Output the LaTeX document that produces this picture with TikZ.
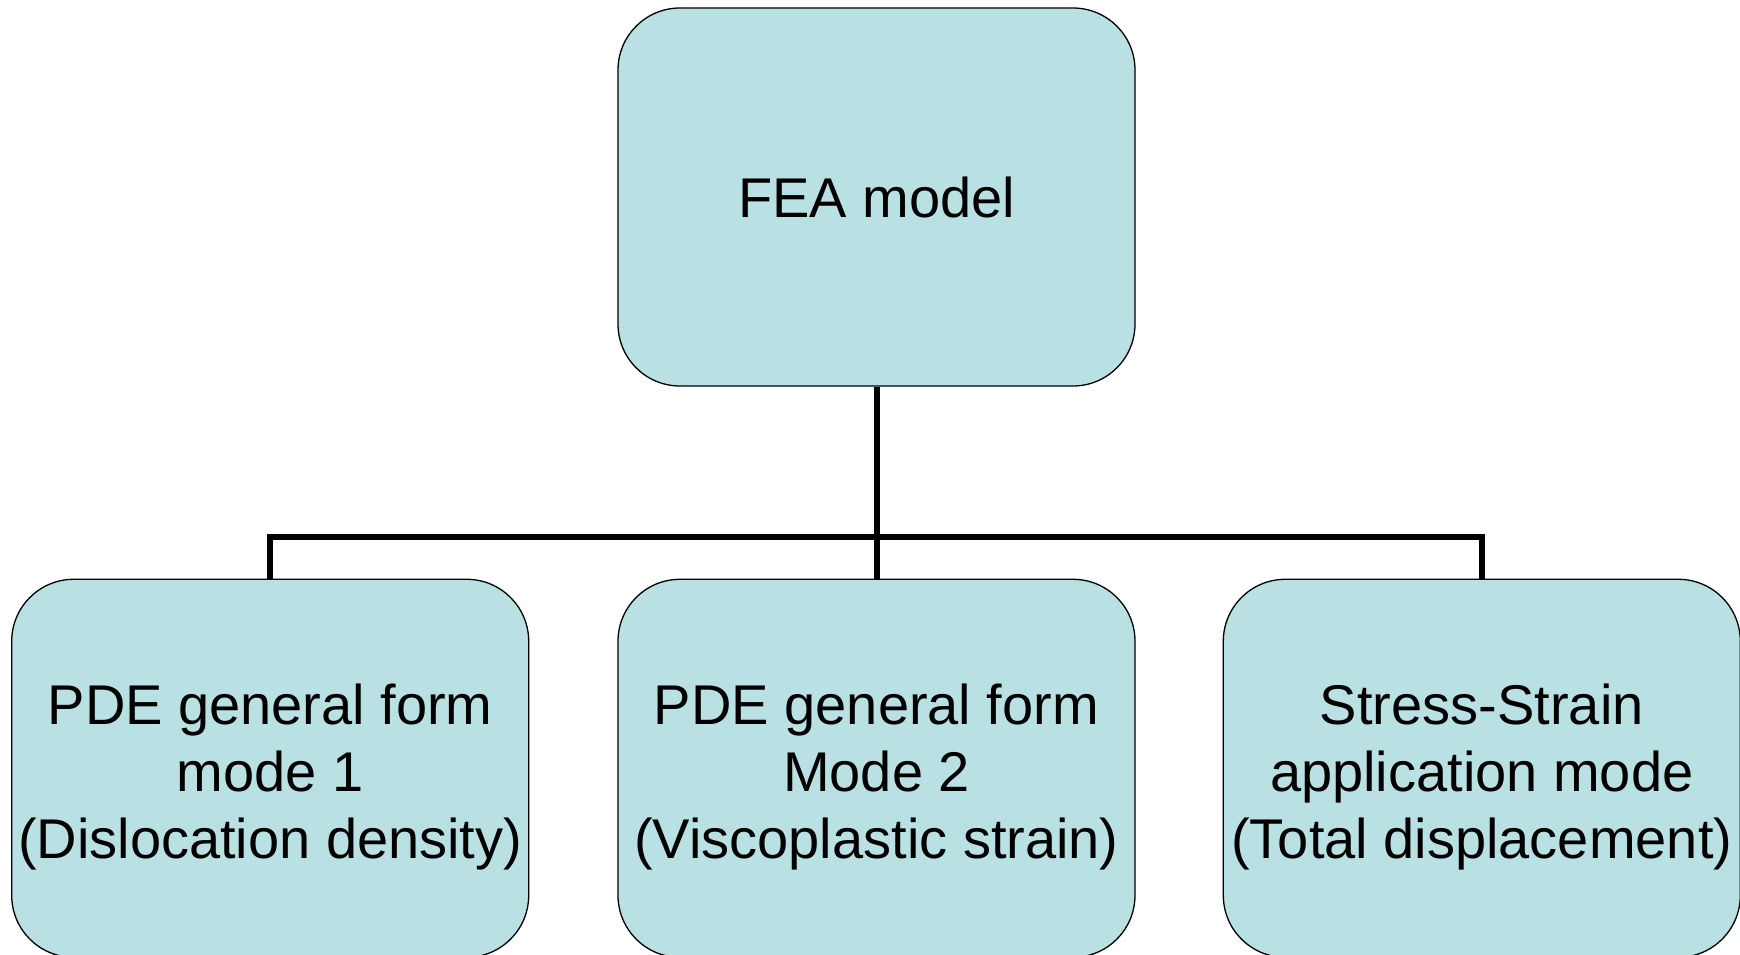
\documentclass[tikz,border=0pt]{standalone}
\usepackage{fontspec}
\setmainfont{Liberation Sans}
\usepackage{tikz}
\usetikzlibrary{positioning}
\definecolor{pale}{HTML}{B9E0E3}
\newcommand{\lift}{\rule{0pt}{58pt}}

\begin{document}
\begin{tikzpicture}[node distance=192pt and 88pt,every node/.style={font=\fontsize{56}{67}\selectfont,align=center},box/.style={draw=black,line width=1.3pt,fill=pale,rounded corners=62pt,minimum width=517pt,minimum height=378pt,inner sep=0pt},link/.style={draw=black,line width=6pt}]
\useasboundingbox (0,0) rectangle (1740pt,-955pt);
\node[box] (fea) at (876.5pt,-197pt) {FEA model};
\node[box,below=of fea] (mode2) {\lift PDE general form\\ Mode 2\\ (Viscoplastic strain)};
\node[box,left=of mode2] (mode1) {\lift PDE general form\\ mode 1\\ (Dislocation density)};
\node[box,right=87pt of mode2] (stress) {\lift Stress-Strain\\ application mode\\ (Total displacement)};
\coordinate (split) at (876.5pt,-537pt);
\draw[link] (fea.south) -- (mode2.north);
\draw[link] (mode1.north) |- (split) -| (stress.north);
\end{tikzpicture}
\end{document}
